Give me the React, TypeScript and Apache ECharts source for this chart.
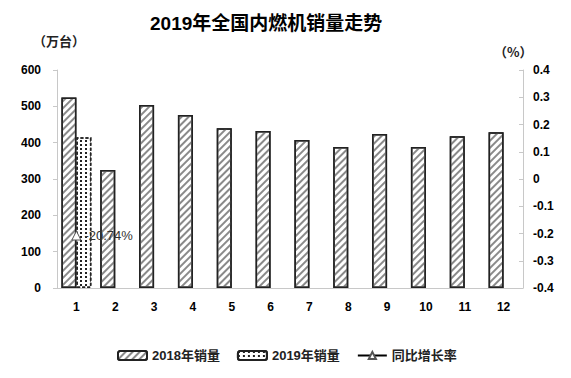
import React, { useEffect, useRef } from "react";
import * as echarts from "echarts";

const months = ["1", "2", "3", "4", "5", "6", "7", "8", "9", "10", "11", "12"];
const sales2018 = [524, 325, 504, 476, 440, 432, 407, 388, 424, 388, 418, 429];
const sales2019: (number | null)[] = [415, null, null, null, null, null, null, null, null, null, null, null];
const growth: (number | null)[] = [-0.2074, null, null, null, null, null, null, null, null, null, null, null];

const FONT = "Liberation Sans, Noto Sans CJK SC, sans-serif";

export default function App() {
  const ref = useRef<HTMLDivElement>(null);
  useEffect(() => {
    if (!ref.current) return;
    const chart = echarts.init(ref.current, null, { renderer: "svg" });
    chart.setOption({
      animation: false,
      backgroundColor: "#fff",
      textStyle: { fontFamily: FONT },
      title: {
        text: "2019年全国内燃机销量走势",
        left: 145,
        top: 9,
        textStyle: { fontSize: 19, fontWeight: "bold", color: "#000", fontFamily: FONT },
      },
      graphic: [
        { type: "text", left: 33, top: 34, style: { text: "（万台）", fill: "#222", font: "bold 13px Noto Sans CJK SC" } },
        { type: "text", left: 494, top: 45, style: { text: "（%）", fill: "#222", font: "bold 13px Noto Sans CJK SC" } },
      ],
      legend: {
        bottom: 16,
        left: 117,
        padding: 0,
        itemGap: 17,
        itemWidth: 29,
        itemHeight: 9,
        textStyle: { fontSize: 13, fontWeight: "bold", color: "#222", fontFamily: FONT },
        data: ["2018年销量", "2019年销量", "同比增长率"],
      },
      grid: { left: 57, right: 48, top: 70, bottom: 90 },
      xAxis: {
        type: "category",
        data: months,
        axisLine: { lineStyle: { color: "#c8c8c8" } },
        axisTick: { show: false },
        axisLabel: { fontWeight: "bold", fontSize: 12, color: "#000", margin: 13 },
      },
      yAxis: [
        {
          type: "value",
          min: 0,
          max: 600,
          interval: 100,
          splitLine: { show: false },
          axisLine: { show: true, lineStyle: { color: "#c8c8c8" } },
          axisTick: { show: true, length: 4, lineStyle: { color: "#c8c8c8" } },
          axisLabel: { fontWeight: "bold", fontSize: 12, color: "#000", margin: 16 },
        },
        {
          type: "value",
          min: -0.4,
          max: 0.4,
          interval: 0.1,
          splitLine: { show: false },
          axisLine: { show: true, lineStyle: { color: "#c8c8c8" } },
          axisTick: { show: true, inside: true, length: 4, lineStyle: { color: "#c8c8c8" } },
          axisLabel: { fontWeight: "bold", fontSize: 12, color: "#000", margin: 10 },
        },
      ],
      series: [
        {
          name: "2018年销量",
          type: "bar",
          data: sales2018,
          barWidth: 15,
          barGap: "0%",
          itemStyle: {
            color: "#fff",
            borderColor: "#222",
            borderWidth: 1.5,
            decal: {
              symbol: "rect",
              symbolSize: 1,
              dashArrayX: [1, 0],
              dashArrayY: [2, 3],
              rotation: -Math.PI / 4,
              color: "#8a8a8a",
            },
          },
        },
        {
          name: "2019年销量",
          type: "bar",
          data: sales2019,
          barWidth: 15,
          itemStyle: {
            color: "#fff",
            borderColor: "#222",
            borderWidth: 1.5,
            borderType: [3, 2],
            decal: {
              symbol: "rect",
              symbolSize: 1,
              dashArrayX: [2, 3],
              dashArrayY: [2, 2],
              rotation: 0,
              color: "#222",
            },
          },
        },
        {
          name: "同比增长率",
          type: "line",
          yAxisIndex: 1,
          data: growth,
          symbol: "triangle",
          symbolSize: 9,
          lineStyle: { color: "#000", width: 1.5 },
          itemStyle: { color: "#fff", borderColor: "#555", borderWidth: 1 },
          label: {
            show: true,
            position: "right",
            distance: 3,
            formatter: (p: any) => (p.value * 100).toFixed(2) + "%",
            fontSize: 13,
            color: "#333",
            fontFamily: FONT,
          },
        },
      ],
    });
    return () => chart.dispose();
  }, []);
  return (
    <div
      ref={ref}
      style={{ position: "fixed", left: 0, top: 0, width: 571, height: 378 }}
    />
  );
}
